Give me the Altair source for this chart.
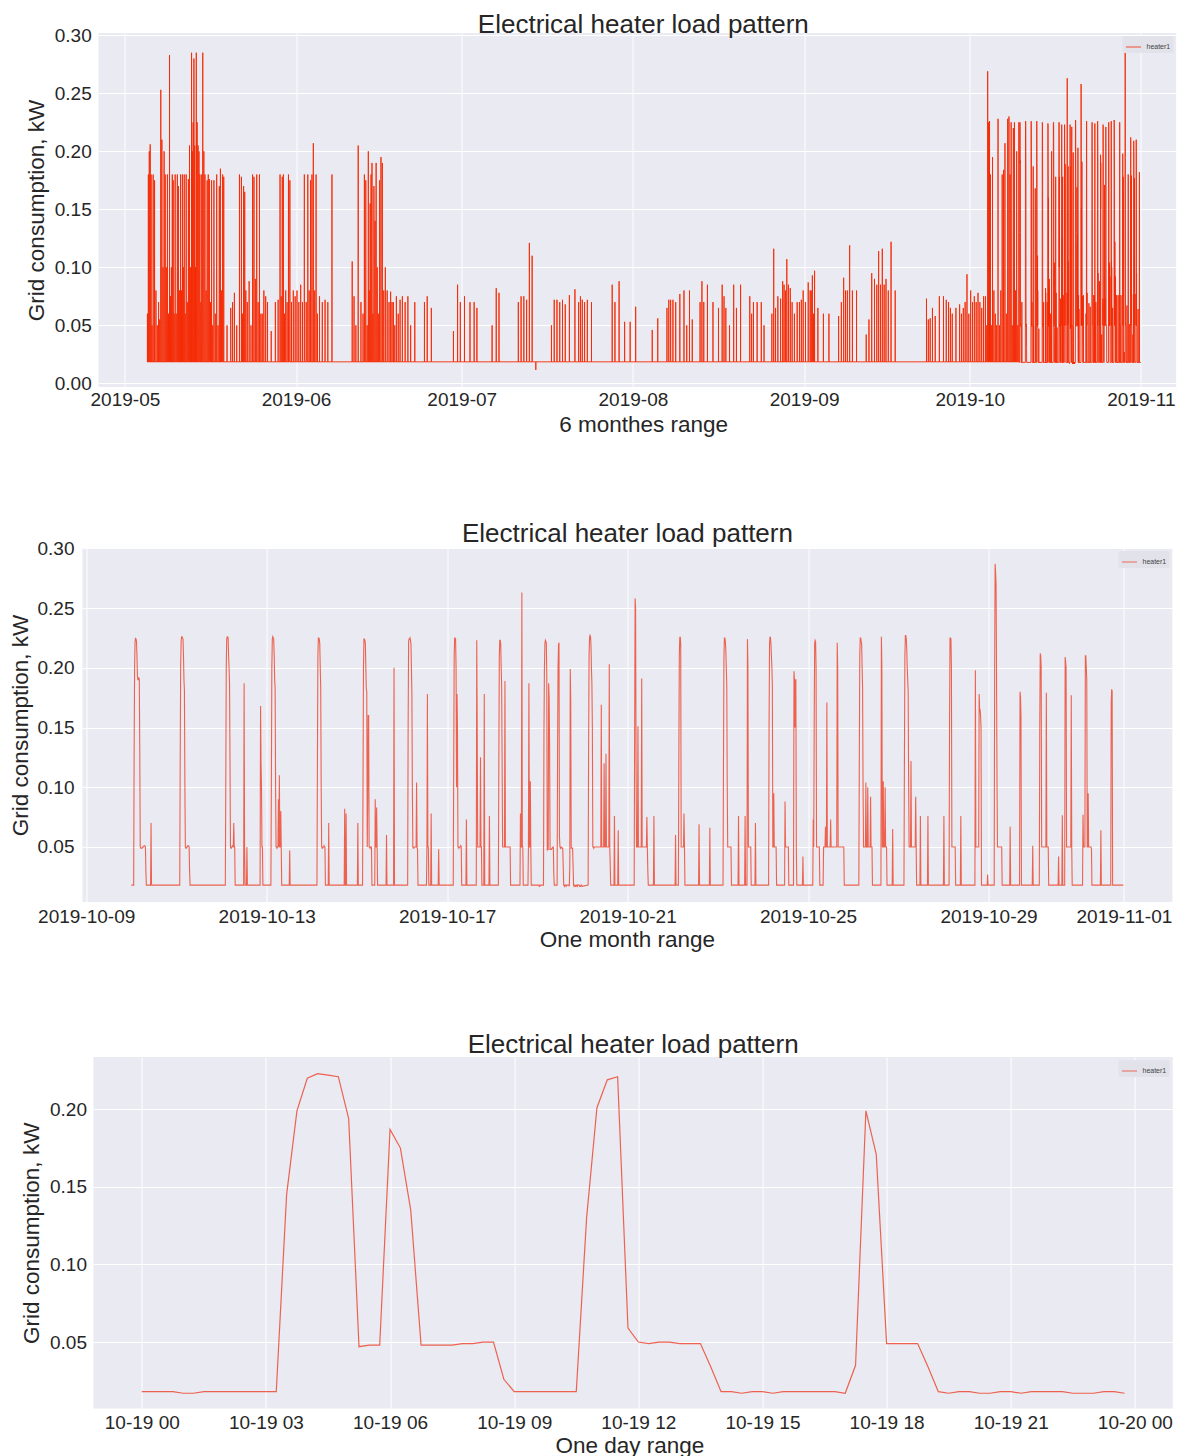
import altair as alt
import pandas as pd

FONT = "Liberation Sans"
INK = "#262626"
PANEL_BG = "#EAEAF2"
TITLE = "Electrical heater load pattern"
Y_TITLE = "Grid consumption, kW"
SERIES = "heater1"

# ---------------- one day: 2019-10-19, 15-minute readings (kW) ----------------
DAY_START = "2019-10-19 00:00"
DAY_VALUES = [
    0.018, 0.018, 0.018, 0.018, 0.017, 0.017, 0.018, 0.018, 0.018, 0.018, 0.018, 0.018, 0.018, 0.018,
    0.145, 0.199, 0.220, 0.223, 0.222, 0.221, 0.194, 0.047, 0.048, 0.048, 0.187, 0.175, 0.135,
    0.048, 0.048, 0.048, 0.048, 0.049, 0.049, 0.050, 0.050, 0.026,
    0.018, 0.018, 0.018, 0.018, 0.018, 0.018, 0.018,
    0.130, 0.201, 0.219, 0.221, 0.059, 0.050, 0.049, 0.050, 0.050, 0.049, 0.049, 0.049, 0.034,
    0.018, 0.018, 0.017, 0.018, 0.018, 0.017,
    0.018, 0.018, 0.018, 0.018, 0.018, 0.018,
    0.017, 0.035, 0.199, 0.171, 0.049, 0.049, 0.049, 0.049, 0.034,
    0.018, 0.017, 0.018, 0.018, 0.017, 0.017, 0.018, 0.018, 0.017, 0.018, 0.018, 0.018, 0.018,
    0.017, 0.017, 0.017, 0.018, 0.018, 0.017,
]

# ---------------- one month: heating episodes (15-minute readings) ----------------
MONTH_FIRST = ("2019-10-10 00:00", 0.018)
MONTH_LAST = ("2019-10-31 23:45", 0.018)
MONTH_STARTS = [
    "10-10 01:15", "10-10 10:15", "10-11 01:45", "10-12 02:00", "10-12 11:45", "10-12 13:15",
    "10-12 20:30", "10-13 02:15", "10-13 12:00", "10-14 02:45", "10-14 08:45", "10-14 17:15",
    "10-15 00:15", "10-15 03:00", "10-15 09:30", "10-15 15:30", "10-15 19:30", "10-16 03:00",
    "10-16 13:00", "10-16 15:15", "10-16 19:15", "10-17 03:15", "10-17 10:00", "10-17 15:30",
    "10-17 19:30", "10-17 22:15", "10-18 03:15", "10-18 14:45", "10-18 19:00",
    "10-20 03:00", "10-20 16:45", "10-20 18:45", "10-21 03:30", "10-21 13:45",
    "10-22 01:15", "10-22 03:00", "10-22 13:45", "10-22 19:30",
    "10-23 02:45", "10-23 10:45", "10-23 14:15", "10-23 15:30", "10-23 19:45",
    "10-24 03:00", "10-24 11:30", "10-24 16:15", "10-24 21:00",
    "10-25 02:30", "10-25 08:00",
    "10-26 03:00", "10-26 14:45", "10-26 20:45",
    "10-27 03:00", "10-27 11:30", "10-27 15:30",
    "10-28 00:00", "10-28 03:00", "10-28 09:00", "10-28 16:45", "10-28 23:15",
    "10-29 03:00", "10-29 11:15", "10-29 16:30", "10-29 23:15",
    "10-30 03:00", "10-30 13:00", "10-30 15:00", "10-30 16:30",
    "10-31 02:00", "10-31 11:30", "10-31 17:00",
]
MONTH_RUNS = [
    [0.018, 0.13, 0.20, 0.222, 0.225, 0.224, 0.222, 0.21, 0.193, 0.19, 0.19, 0.192, 0.19, 0.13,
     0.05, 0.049, 0.049, 0.049, 0.049, 0.05, 0.05, 0.05, 0.051, 0.051, 0.051, 0.05, 0.03, 0.018],
    [0.018, 0.07, 0.018],
    [0.018, 0.12, 0.20, 0.222, 0.226, 0.226, 0.225, 0.224, 0.21, 0.19, 0.181, 0.10, 0.05, 0.049,
     0.049, 0.05, 0.05, 0.051, 0.051, 0.051, 0.05, 0.03, 0.018],
    [0.018, 0.10, 0.20, 0.224, 0.226, 0.226, 0.225, 0.21, 0.20, 0.187, 0.12, 0.05, 0.049, 0.049,
     0.05, 0.051, 0.051, 0.05, 0.07, 0.05, 0.05, 0.018],
    [0.018, 0.187, 0.05, 0.018],
    [0.018, 0.05, 0.018],
    [0.018, 0.168, 0.12, 0.10, 0.05, 0.05, 0.018],
    [0.018, 0.10, 0.20, 0.224, 0.226, 0.225, 0.224, 0.21, 0.19, 0.183, 0.10, 0.05, 0.05, 0.049,
     0.05, 0.05, 0.09, 0.05, 0.11, 0.05, 0.05, 0.08, 0.05, 0.018],
    [0.018, 0.047, 0.018],
    [0.018, 0.12, 0.21, 0.225, 0.225, 0.224, 0.22, 0.20, 0.183, 0.10, 0.05, 0.049, 0.049, 0.05,
     0.05, 0.051, 0.05, 0.05, 0.018],
    [0.018, 0.07, 0.018],
    [0.018, 0.082, 0.018, 0.018, 0.078, 0.018],
    [0.018, 0.07, 0.018],
    [0.018, 0.10, 0.20, 0.224, 0.224, 0.223, 0.22, 0.20, 0.182, 0.18, 0.05, 0.09, 0.16, 0.16, 0.05,
     0.05, 0.049, 0.05, 0.05, 0.05, 0.018],
    [0.018, 0.09, 0.05, 0.05, 0.083, 0.05, 0.018],
    [0.018, 0.06, 0.018],
    [0.018, 0.20, 0.018],
    [0.018, 0.15, 0.222, 0.224, 0.224, 0.225, 0.223, 0.22, 0.20, 0.179, 0.10, 0.05, 0.049, 0.049,
     0.05, 0.05, 0.05, 0.05, 0.05, 0.104, 0.05, 0.048, 0.018],
    [0.018, 0.05, 0.178, 0.05, 0.05, 0.018],
    [0.018, 0.078, 0.018],
    [0.018, 0.048, 0.018],
    [0.018, 0.12, 0.21, 0.225, 0.225, 0.224, 0.20, 0.10, 0.178, 0.15, 0.05, 0.05, 0.049, 0.05,
     0.05, 0.05, 0.051, 0.05, 0.018],
    [0.018, 0.073, 0.018],
    [0.018, 0.223, 0.15, 0.05, 0.05, 0.05, 0.05, 0.05, 0.05, 0.125, 0.05, 0.05, 0.018],
    [0.018, 0.178, 0.018],
    [0.018, 0.076, 0.018],
    [0.018, 0.12, 0.21, 0.223, 0.223, 0.22, 0.20, 0.185, 0.12, 0.05, 0.05, 0.05, 0.05, 0.05, 0.189,
     0.05, 0.05, 0.05, 0.05, 0.05, 0.05, 0.05, 0.05, 0.05, 0.05, 0.05, 0.018],
    [0.018, 0.078, 0.05, 0.05, 0.263, 0.05, 0.05, 0.018],
    [0.018, 0.05, 0.187, 0.05, 0.05, 0.105, 0.05, 0.018],
    [0.018, 0.13, 0.21, 0.225, 0.227, 0.226, 0.22, 0.20, 0.187, 0.15, 0.05, 0.05, 0.049, 0.05,
     0.05, 0.05, 0.05, 0.05, 0.05, 0.05, 0.05, 0.05, 0.05, 0.05, 0.05, 0.05, 0.05, 0.05, 0.169,
     0.05, 0.05, 0.05, 0.05, 0.05, 0.12, 0.05, 0.05, 0.05, 0.128, 0.05, 0.05, 0.05, 0.05, 0.05,
     0.05, 0.203, 0.05, 0.035, 0.018],
    [0.018, 0.076, 0.018],
    [0.018, 0.064, 0.018],
    [0.018, 0.15, 0.258, 0.25, 0.12, 0.05, 0.05, 0.05, 0.151, 0.05, 0.05, 0.05, 0.05, 0.05, 0.05,
     0.05, 0.191, 0.05, 0.05, 0.05, 0.05, 0.05, 0.05, 0.05, 0.05, 0.05, 0.05, 0.075, 0.05, 0.03,
     0.018],
    [0.018, 0.076, 0.018],
    [0.018, 0.06, 0.018],
    [0.018, 0.12, 0.21, 0.225, 0.226, 0.22, 0.05, 0.05, 0.05, 0.05, 0.05, 0.05, 0.078, 0.05, 0.018],
    [0.018, 0.069, 0.018],
    [0.018, 0.066, 0.018],
    [0.018, 0.12, 0.21, 0.225, 0.225, 0.222, 0.215, 0.20, 0.186, 0.10, 0.05, 0.05, 0.05, 0.05,
     0.05, 0.05, 0.05, 0.05, 0.018],
    [0.018, 0.076, 0.018],
    [0.018, 0.076, 0.018],
    [0.018, 0.224, 0.20, 0.05, 0.05, 0.05, 0.05, 0.05, 0.05, 0.018],
    [0.018, 0.07, 0.018],
    [0.018, 0.15, 0.22, 0.226, 0.225, 0.22, 0.21, 0.20, 0.185, 0.05, 0.05, 0.095, 0.05, 0.05,
     0.05, 0.05, 0.05, 0.018],
    [0.018, 0.088, 0.05, 0.05, 0.05, 0.05, 0.05, 0.05, 0.05, 0.018],
    [0.018, 0.197, 0.19, 0.15, 0.19, 0.19, 0.05, 0.018],
    [0.018, 0.042, 0.018],
    [0.018, 0.073, 0.05, 0.15, 0.22, 0.223, 0.222, 0.20, 0.05, 0.05, 0.05, 0.05, 0.05, 0.05, 0.05,
     0.018],
    [0.018, 0.05, 0.05, 0.05, 0.05, 0.067, 0.05, 0.05, 0.171, 0.05, 0.05, 0.05, 0.05, 0.05, 0.05,
     0.05, 0.073, 0.05, 0.05, 0.05, 0.05, 0.05, 0.05, 0.05, 0.05, 0.05, 0.05, 0.05, 0.05, 0.05,
     0.221, 0.20, 0.05, 0.05, 0.05, 0.05, 0.05, 0.05, 0.05, 0.05, 0.05, 0.05, 0.05, 0.05, 0.05,
     0.018],
    [0.018, 0.12, 0.21, 0.225, 0.225, 0.222, 0.22, 0.20, 0.183, 0.10, 0.05, 0.05, 0.05, 0.05, 0.05,
     0.104, 0.05, 0.05, 0.05, 0.10, 0.05, 0.05, 0.05, 0.05, 0.05, 0.092, 0.05, 0.05, 0.05, 0.018],
    [0.018, 0.226, 0.20, 0.05, 0.05, 0.105, 0.05, 0.05, 0.05, 0.10, 0.05, 0.05, 0.05, 0.018],
    [0.018, 0.065, 0.018],
    [0.018, 0.12, 0.21, 0.227, 0.227, 0.224, 0.215, 0.20, 0.19, 0.18, 0.10, 0.05, 0.05, 0.05, 0.05,
     0.122, 0.05, 0.05, 0.05, 0.05, 0.05, 0.05, 0.05, 0.05, 0.05, 0.092, 0.05, 0.018],
    [0.018, 0.076, 0.018],
    [0.018, 0.076, 0.018],
    [0.018, 0.076, 0.018],
    [0.018, 0.15, 0.225, 0.225, 0.224, 0.20, 0.05, 0.05, 0.05, 0.05, 0.05, 0.05, 0.05, 0.05, 0.018],
    [0.018, 0.076, 0.018],
    [0.018, 0.198, 0.05, 0.05, 0.05, 0.05, 0.05, 0.05, 0.05, 0.178, 0.165, 0.165, 0.16, 0.15, 0.018],
    [0.018, 0.027, 0.018],
    [0.018, 0.20, 0.287, 0.28, 0.27, 0.194, 0.105, 0.05, 0.05, 0.05, 0.05, 0.05, 0.05, 0.05, 0.05,
     0.05, 0.05, 0.018],
    [0.018, 0.067, 0.018],
    [0.018, 0.18, 0.175, 0.16, 0.018],
    [0.018, 0.051, 0.018],
    [0.018, 0.15, 0.212, 0.21, 0.20, 0.05, 0.05, 0.05, 0.05, 0.05, 0.05, 0.05, 0.05, 0.05, 0.05,
     0.179, 0.05, 0.05, 0.05, 0.05, 0.018],
    [0.018, 0.042, 0.018],
    [0.018, 0.0765, 0.018],
    [0.018, 0.209, 0.205, 0.20, 0.05, 0.05, 0.05, 0.05, 0.05, 0.05, 0.05, 0.05, 0.05, 0.05, 0.177,
     0.05, 0.018],
    [0.018, 0.077, 0.05, 0.05, 0.05, 0.05, 0.21, 0.21, 0.20, 0.19, 0.05, 0.05, 0.095, 0.05, 0.05,
     0.05, 0.05, 0.05, 0.05, 0.048, 0.018],
    [0.018, 0.064, 0.018],
    [0.018, 0.17, 0.182, 0.18, 0.018],
]

# ---------------- six months (before 2019-10-10): heater spikes per day ----------------
HALF_BASE = 0.0185
HALF_FIRST = "2019-05-05 00:00"
HALF_LAST = "2019-10-09 23:45"
HALF_DIP_START = "2019-07-14 09:45"
HALF_DIP_RUN = [0.0185, 0.0115, 0.0185]
HALF_DAYS = [
    "05-05", "05-06", "05-07", "05-08", "05-09", "05-10", "05-11", "05-12", "05-13", "05-14",
    "05-15", "05-16", "05-17", "05-18", "05-19", "05-20", "05-21", "05-22", "05-23", "05-24",
    "05-25", "05-26", "05-27", "05-28", "05-29", "05-30", "05-31", "06-01", "06-02", "06-03",
    "06-04", "06-05", "06-06", "06-07", "06-11", "06-12", "06-13", "06-14", "06-15", "06-16",
    "06-17", "06-18", "06-19", "06-20", "06-21", "06-22", "06-24", "06-25", "06-29", "06-30",
    "07-01", "07-02", "07-03", "07-06", "07-07", "07-11", "07-12", "07-13", "07-17", "07-18",
    "07-19", "07-20", "07-21", "07-22", "07-23", "07-24", "07-28", "07-29", "07-30", "07-31",
    "08-01", "08-04", "08-05", "08-07", "08-08", "08-09", "08-10", "08-11", "08-13", "08-14",
    "08-15", "08-16", "08-17", "08-18", "08-19", "08-20", "08-22", "08-23", "08-24", "08-26",
    "08-27", "08-28", "08-29", "08-30", "08-31", "09-01", "09-02", "09-03", "09-04", "09-05",
    "09-07", "09-08", "09-09", "09-10", "09-12", "09-13", "09-14", "09-15", "09-16", "09-17",
    "09-23", "09-24", "09-25", "09-26", "09-27", "09-28", "09-29", "09-30", "10-01", "10-02",
    "10-03", "10-04", "10-05", "10-06", "10-07", "10-08", "10-09",
]
HALF_PEAKS = [
    [0.06, 0.18, 0.20, 0.206, 0.18, 0.05], [0.18, 0.175, 0.08, 0.05],
    [0.07, 0.055, 0.253, 0.21, 0.10], [0.20, 0.18, 0.10, 0.18, 0.06],
    [0.283, 0.075, 0.10, 0.18, 0.175, 0.06], [0.18, 0.06, 0.18, 0.17, 0.08],
    [0.18, 0.08, 0.18, 0.10, 0.18, 0.06], [0.18, 0.07, 0.176, 0.205, 0.10],
    [0.285, 0.20, 0.225, 0.28, 0.205, 0.10, 0.285], [0.225, 0.205, 0.20, 0.18, 0.07, 0.18],
    [0.285, 0.20, 0.18, 0.08, 0.175], [0.18, 0.176, 0.07, 0.175, 0.05],
    [0.175, 0.06, 0.18, 0.05], [0.17, 0.185, 0.08, 0.18, 0.178],
    [0.05], [0.065, 0.07, 0.078], [0.05, 0.18], [0.178, 0.06, 0.17, 0.165, 0.08],
    [0.07, 0.088, 0.05], [0.18, 0.178, 0.09, 0.18],
    [0.07, 0.18, 0.06, 0.06], [0.08, 0.075, 0.07], [0.045], [0.07, 0.072],
    [0.18, 0.075, 0.178, 0.18, 0.06], [0.08, 0.07, 0.18, 0.175], [0.07, 0.08, 0.075],
    [0.08, 0.07, 0.085], [0.07, 0.18, 0.07], [0.18, 0.08, 0.175, 0.18],
    [0.207, 0.08, 0.18, 0.06], [0.075, 0.07], [0.072, 0.07], [0.18],
    [0.105, 0.075, 0.05], [0.205, 0.07], [0.06, 0.18, 0.175, 0.05],
    [0.20, 0.08, 0.155, 0.18, 0.19, 0.06], [0.17, 0.14, 0.19, 0.10, 0.06],
    [0.175, 0.195, 0.19, 0.08],
    [0.10, 0.08, 0.07], [0.079, 0.07, 0.07, 0.05], [0.075, 0.06, 0.072], [0.075, 0.07],
    [0.075, 0.05], [0.07], [0.07, 0.075], [0.065], [0.045], [0.085, 0.07],
    [0.075], [0.07], [0.07, 0.065], [0.05], [0.082, 0.078], [0.07, 0.075], [0.075, 0.072],
    [0.121, 0.11], [0.05, 0.072], [0.072, 0.07],
    [0.072, 0.068], [0.076], [0.081], [0.07, 0.075, 0.072], [0.07, 0.072], [0.07],
    [0.085, 0.07], [0.088], [0.053], [0.053],
    [0.066], [0.046], [0.056], [0.065, 0.072, 0.072], [0.072, 0.07], [0.077], [0.08, 0.05],
    [0.08, 0.055], [0.07, 0.088, 0.07], [0.085],
    [0.07], [0.065], [0.085, 0.075, 0.065], [0.05], [0.085, 0.065], [0.085],
    [0.075, 0.06, 0.07], [0.07], [0.07, 0.05], [0.06, 0.116, 0.065],
    [0.075, 0.073], [0.088, 0.085, 0.08, 0.107], [0.085, 0.082, 0.07], [0.06, 0.07],
    [0.07, 0.072, 0.08], [0.07, 0.087], [0.08, 0.08, 0.093, 0.06, 0.097], [0.065], [0.06], [0.06],
    [0.058, 0.07], [0.091, 0.08, 0.08], [0.119, 0.08], [0.08], [0.042, 0.055], [0.095, 0.09],
    [0.085, 0.114, 0.085], [0.116, 0.085, 0.09], [0.08, 0.122], [0.08],
    [0.073, 0.055, 0.056], [0.065, 0.058], [0.075], [0.075, 0.072], [0.07, 0.065, 0.06],
    [0.065], [0.068, 0.06, 0.065], [0.07, 0.094, 0.06], [0.08, 0.07, 0.075], [0.07, 0.078, 0.07],
    [0.065, 0.075, 0.075], [0.05, 0.269, 0.225, 0.226, 0.18, 0.05], [0.195, 0.08, 0.06, 0.05],
    [0.228, 0.05, 0.08, 0.18], [0.184, 0.207, 0.06, 0.228], [0.23, 0.18, 0.225, 0.05, 0.22],
    [0.225, 0.08, 0.20, 0.05, 0.225],
]

# ---------------- axis ranges and ticks ----------------
HALF_X = ["2019-04-26 05:17", "2019-11-07 09:21"]
HALF_Y = [-0.0032, 0.3020]
HALF_XTICKS = ["2019-05-01", "2019-06-01", "2019-07-01", "2019-08-01", "2019-09-01",
               "2019-10-01", "2019-11-01"]
HALF_YTICKS = [0.00, 0.05, 0.10, 0.15, 0.20, 0.25, 0.30]

MONTH_X = ["2019-10-08 22:02", "2019-11-02 01:48"]
MONTH_Y = [0.0039, 0.3003]
MONTH_XTICKS = ["2019-10-09", "2019-10-13", "2019-10-17", "2019-10-21", "2019-10-25",
                "2019-10-29", "2019-11-01"]
MONTH_YTICKS = [0.05, 0.10, 0.15, 0.20, 0.25, 0.30]

DAY_X = ["2019-10-18 22:50", "2019-10-20 00:55"]
DAY_Y = [0.0071, 0.2337]
DAY_XTICKS = ["2019-10-19 00:00", "2019-10-19 03:00", "2019-10-19 06:00", "2019-10-19 09:00",
              "2019-10-19 12:00", "2019-10-19 15:00", "2019-10-19 18:00", "2019-10-19 21:00",
              "2019-10-20 00:00"]
DAY_YTICKS = [0.05, 0.10, 0.15, 0.20]

# ---------------- build tables ----------------
STEP = pd.Timedelta(minutes=15)
EPOCH = pd.Timestamp("1970-01-01")


def ms(t):
    return int((pd.Timestamp(t) - EPOCH) / pd.Timedelta(milliseconds=1))


def table(points):
    df = pd.DataFrame({"t": [ms(p[0]) for p in points], "v": [p[1] for p in points]})
    df = df.sort_values("t").reset_index(drop=True)
    df["s"] = SERIES
    return df


def run_points(start, run):
    t0 = pd.Timestamp(start)
    return [(t0 + i * STEP, v) for i, v in enumerate(run)]


day_points = run_points(DAY_START, DAY_VALUES)

month_points = [MONTH_FIRST, MONTH_LAST] + day_points
for start, run in zip(MONTH_STARTS, MONTH_RUNS):
    month_points += run_points("2019-" + start, run)

half_points = [(HALF_FIRST, HALF_BASE), (HALF_LAST, HALF_BASE)] + month_points
half_points += run_points(HALF_DIP_START, HALF_DIP_RUN)
for day, peaks in zip(HALF_DAYS, HALF_PEAKS):
    d0 = pd.Timestamp("2019-" + day)
    n = len(peaks)
    for i, v in enumerate(peaks):
        t = d0 + pd.Timedelta(hours=24.0 * (i + 0.5) / n)
        half_points += [(t - pd.Timedelta(minutes=10), HALF_BASE), (t, v),
                        (t + pd.Timedelta(minutes=10), HALF_BASE)]

half_df = table(half_points)
month_df = table(month_points)
day_df = table(day_points)


def panel(df, xdom, ydom, xticks, yticks, xfmt, xtitle, w, h, color, sw, op,
          xlp, xtx, xty, ylp, ytx, tdx, tdy):
    return alt.Chart(df).mark_line(strokeWidth=sw, opacity=op, clip=True).encode(
        x=alt.X("t:T",
                scale=alt.Scale(type="utc", domain=[ms(x) for x in xdom], nice=False),
                axis=alt.Axis(values=[ms(x) for x in xticks],
                              labelExpr="utcFormat(datum.value, '" + xfmt + "')",
                              title=xtitle, labelPadding=xlp,
                              titleX=xtx, titleY=xty, titleAlign="center",
                              titleBaseline="alphabetic")),
        y=alt.Y("v:Q",
                scale=alt.Scale(domain=ydom, nice=False, zero=False),
                axis=alt.Axis(values=yticks, format=".2f", title=Y_TITLE,
                              labelPadding=ylp, titleX=ytx, titleY=h / 2.0, titleAngle=270,
                              titleAlign="center", titleBaseline="alphabetic")),
        color=alt.Color("s:N", scale=alt.Scale(domain=[SERIES], range=[color]),
                        legend=alt.Legend(title=None, orient="top-right", offset=3, padding=3,
                                          fillColor="#E2E2EA", cornerRadius=2,
                                          labelFont=FONT, labelFontSize=7, labelColor="#444444",
                                          labelOffset=5, symbolType="stroke", symbolSize=225,
                                          symbolStrokeWidth=1, symbolStrokeColor=color,
                                          symbolOpacity=0.8)),
    ).properties(width=w, height=h,
                 title=alt.TitleParams(TITLE, dx=tdx, dy=tdy, offset=0),
                 view=alt.ViewBackground(fill=PANEL_BG, strokeWidth=0))


def spacer(w, h):
    return alt.Chart(pd.DataFrame({"a": [0]})).mark_point(opacity=0).encode(
        x=alt.value(0), y=alt.value(0)
    ).properties(width=w, height=h, view=alt.ViewBackground(fill="#ffffff", strokeWidth=0))


p1 = panel(half_df, HALF_X, HALF_Y, HALF_XTICKS, HALF_YTICKS, "%Y-%m", "6 monthes range",
           1077.7, 354, "#f52a05", 0.9, 1.0, 3, 544.7, 44.7, 7.3, -55, 6, 11.4)
p2 = panel(month_df, MONTH_X, MONTH_Y, MONTH_XTICKS, MONTH_YTICKS, "%Y-%m-%d", "One month range",
           1089.9, 354, "#ec4a32", 1.1, 0.85, 5.5, 544.4, 44.3, 8.5, -55, 0, 7.6)
p3 = panel(day_df, DAY_X, DAY_Y, DAY_XTICKS, DAY_YTICKS, "%m-%d %H", "One day range",
           1079.3, 351.6, "#ec4a32", 1.2, 0.85, 5, 535.8, 43.4, 7, -55, 0, 0.5)

row1 = alt.hconcat(spacer(18.5, 406.4), p1, spacing=0).resolve_scale(color="independent")
row2 = alt.hconcat(spacer(2.1, 10), p2, spacing=0).resolve_scale(color="independent")
row3 = alt.hconcat(spacer(13.2, 10), p3, spacing=0).resolve_scale(color="independent")

chart = alt.vconcat(row1, row2, row3, spacing=80).resolve_scale(
    color="independent"
).properties(
    padding={"left": -4.5, "top": 3, "right": 0, "bottom": 0}
).configure(
    font=FONT, background="white"
).configure_view(
    strokeWidth=0
).configure_axis(
    labelFont=FONT, labelFontSize=19, labelColor=INK,
    titleFont=FONT, titleFontSize=22.5, titleFontWeight="normal", titleColor=INK,
    grid=True, gridColor="#ffffff", gridWidth=1, gridOpacity=1,
    domain=False, ticks=False, tickSize=0, labelFlush=False, labelOverlap=False,
).configure_title(
    font=FONT, fontSize=26, fontWeight="normal", color=INK, anchor="middle",
    frame="group", baseline="alphabetic",
)

chart.save("out.html", embed_options={"renderer": "svg", "actions": False})
